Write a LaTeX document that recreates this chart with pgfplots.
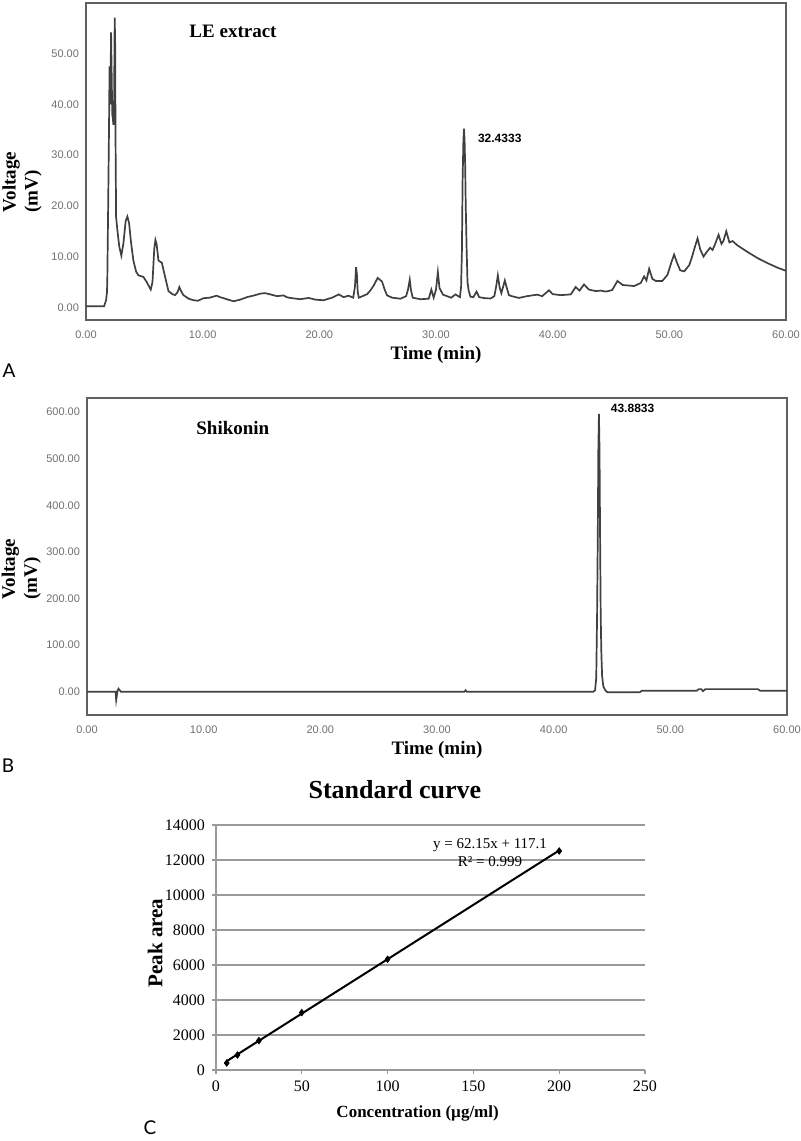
\documentclass[border=0pt]{standalone}
\usepackage{fontspec}
\setmainfont{Liberation Serif}
\newfontfamily\arialf{Liberation Sans}
\newfontfamily\panelf{Lato}
\usepackage{pgfplots}
\usepackage{pgfplotstable}
\pgfplotsset{compat=1.18}

\definecolor{frame}{HTML}{606060}
\definecolor{trace}{HTML}{404040}
\definecolor{ticktxt}{HTML}{707070}
\definecolor{gridc}{HTML}{9A9A9A}

% LE extract chromatogram (time min, voltage mV)
\pgfplotstableread{
t v
0.00 0.2
1.55 0.2
1.72 1.4
1.80 3.0
1.83 6.0
1.90 20
1.97 34.8
2.02 47.5
2.08 40
2.15 54.2
2.20 46
2.25 38
2.29 37.5
2.35 36
2.40 38
2.46 57.1
2.50 52
2.53 34
2.58 17.8
2.70 15
2.85 12
3.03 10.2
3.20 12.5
3.40 17.0
3.55 17.9
3.70 16.5
3.85 13
4.06 9.25
4.30 7.0
4.50 6.3
4.92 6.0
5.20 5.0
5.55 3.5
5.70 5
5.85 11.5
5.95 13.3
6.05 12.5
6.21 9.25
6.35 9.0
6.50 8.8
6.78 6.0
7.07 3.2
7.40 2.6
7.64 2.4
7.85 3.0
8.00 4.0
8.15 3.2
8.35 2.4
8.80 1.7
9.21 1.4
9.60 1.3
10.07 1.8
10.60 1.9
11.20 2.3
11.50 2.0
11.80 1.8
12.20 1.5
12.65 1.2
13.20 1.5
13.80 2.0
14.50 2.4
14.94 2.7
15.36 2.8
15.80 2.55
16.37 2.2
16.94 2.35
17.20 2.0
17.50 1.85
18.37 1.6
19.08 1.85
19.70 1.5
20.37 1.4
21.09 1.9
21.66 2.55
22.09 2.0
22.50 2.3
22.90 1.9
23.05 4.0
23.15 7.9
23.22 6.5
23.29 3.1
23.38 1.9
23.70 2.2
24.10 2.6
24.40 3.4
24.66 4.3
25.00 5.8
25.37 5.1
25.60 3.5
25.81 2.35
26.24 1.9
26.95 1.7
27.44 2.2
27.60 3.5
27.75 5.45
27.85 3.5
28.00 1.9
28.67 1.6
29.38 1.7
29.60 3.5
29.80 1.9
30.00 3.5
30.16 6.95
30.30 3.8
30.60 2.5
30.95 2.2
31.30 1.9
31.67 2.55
32.05 2.0
32.15 4
32.22 11
32.28 25
32.35 33
32.40 35.2
32.45 33
32.50 28
32.55 20
32.62 12
32.70 5
32.80 3.3
32.95 2.1
33.20 2.0
33.48 3.1
33.70 2.0
34.20 1.8
34.68 1.75
35.00 2.2
35.15 4.0
35.30 6.3
35.45 4.0
35.60 2.8
35.75 4.0
35.90 5.3
36.05 4.0
36.25 2.4
36.50 2.2
37.10 1.85
37.80 2.2
38.68 2.5
39.10 2.2
39.40 2.8
39.68 3.35
40.00 2.6
40.70 2.4
41.55 2.55
41.97 4.0
42.30 3.3
42.69 4.5
43.10 3.5
43.70 3.2
44.10 3.3
44.55 3.1
45.10 3.4
45.55 5.2
46.00 4.4
46.98 4.2
47.55 4.8
47.84 6.1
48.04 5.3
48.27 7.6
48.55 5.6
48.84 5.2
49.40 5.2
49.84 6.4
50.18 8.9
50.41 10.4
50.64 8.9
50.93 7.3
51.28 7.1
51.70 8.3
51.90 9.6
52.19 11.9
52.42 13.6
52.65 11.4
52.93 10.0
53.20 10.9
53.50 11.75
53.70 11.3
53.93 12.5
54.22 14.3
54.47 12.5
54.64 13.1
54.88 15.0
55.15 12.8
55.42 13.05
55.85 12.2
56.71 10.9
57.57 9.7
58.43 8.7
59.29 7.8
60.00 7.2
}\leextract

% Shikonin standard chromatogram
\pgfplotstableread{
t v
0.00 0
2.45 0
2.50 -18
2.55 -10
2.62 2
2.70 6.4
2.78 4
2.90 0
32.35 0
32.45 3
32.55 0
43.40 0
43.55 3
43.65 30
43.72 160
43.78 330
43.83 520
43.88 596
43.93 520
43.98 330
44.03 170
44.08 90
44.15 35
44.25 12
44.40 4
44.60 -1
47.40 -1
47.55 2
52.25 2
52.45 5.5
52.65 5.5
52.80 1
53.00 5.5
57.50 5.5
57.70 2
60.00 2
}\shikonin

\pgfplotsset{chrom/.style={
    scale only axis, width=350pt, height=158.5pt, anchor=north west,
    xmin=0, xmax=60, xtick={0,10,...,60},
    axis line style={frame, line width=0.75pt},
    major tick length=0pt,
    tick label style={font=\arialf\fontsize{5.5}{6}\selectfont, text=ticktxt},
    /pgf/number format/fixed, /pgf/number format/fixed zerofill,
    /pgf/number format/precision=2, /pgf/number format/assume math mode=true,
    xticklabel style={yshift=-2pt},
    label style={font=\bfseries\fontsize{9.5}{11}\selectfont},
    xlabel={Time (min)},
    xlabel style={at={(axis description cs:0.5,0)}, anchor=center, yshift=-17.5pt},
    ylabel={Voltage\\(mV)},
    ylabel style={anchor=center, align=left},
  }}

\begin{document}
\begin{tikzpicture}
  \useasboundingbox (0,0) rectangle (400pt,-570.5pt);

  % A
  \begin{axis}[chrom, at={(43pt,-1.5pt)}, ymin=-2.5, ymax=60, ytick={0,10,...,50},
      ylabel style={at={(axis description cs:-0.0915,0.435)}}]
    \addplot[trace, line width=0.85pt] table[x=t, y=v] {\leextract};
    \node[font=\bfseries\fontsize{9.5}{10}\selectfont] at (axis cs:12.6,54.5) {LE extract};
    \node[font=\arialf\bfseries\fontsize{6}{7}\selectfont, anchor=west] at (axis cs:33.0,33.3) {32.4333};
  \end{axis}

  % B
  \begin{axis}[chrom, at={(43.5pt,-199pt)}, ymin=-50, ymax=630, ytick={0,100,...,600},
      ylabel style={at={(axis description cs:-0.094,0.46)}}]
    \addplot[trace, line width=0.85pt] table[x=t, y=v] {\shikonin};
    \node[font=\bfseries\fontsize{9.5}{10}\selectfont] at (axis cs:12.5,566) {Shikonin};
    \node[font=\arialf\bfseries\fontsize{6}{7}\selectfont, anchor=west] at (axis cs:44.3,607) {43.8833};
  \end{axis}

  % C
  \begin{axis}[scale only axis, width=214.5pt, height=122.5pt,
      at={(108pt,-412.5pt)}, anchor=north west,
      xmin=0, xmax=250, ymin=0, ymax=14000,
      xtick={0,50,...,250}, ytick={0,2000,...,14000},
      axis x line=bottom, axis y line=left,
      axis line style={gridc, -, line width=0.6pt},
      tick style={gridc, line width=0.6pt}, tick align=outside, major tick length=2pt,
      ymajorgrids, grid style={gridc, line width=0.6pt},
      tick label style={font=\fontsize{8}{9}\selectfont},
      /pgf/number format/1000 sep={}, /pgf/number format/assume math mode=true,
      scaled y ticks=false,
      title={Standard curve},
      title style={font=\bfseries\fontsize{13}{14}\selectfont,
        at={(axis description cs:0.417,1)}, anchor=center, yshift=11.5pt},
      label style={font=\bfseries\fontsize{8.5}{9}\selectfont},
      xlabel={Concentration (µg/ml)},
      xlabel style={at={(axis description cs:0.47,-0.176)}, anchor=center},
      ylabel={Peak area},
      ylabel style={at={(axis description cs:-0.142,0.518)}, anchor=center,
        font=\bfseries\fontsize{10.5}{11}\selectfont},
    ]
    \addplot[black, line width=1pt] coordinates {(6.25,505.5) (200,12547.1)};
    \addplot[only marks, mark=diamond*, mark size=1.6pt, black]
      coordinates {(6.25,400) (12.5,857) (25,1680) (50,3280) (100,6330) (200,12514)};
    \node[font=\fontsize{7.5}{8}\selectfont] at (axis cs:159.7,12857) {y = 62.15x + 117.1};
    \node[font=\fontsize{7.5}{8}\selectfont] at (axis cs:159.7,11886) {R² = 0.999};
  \end{axis}

  \node[font=\panelf\fontsize{9.5}{10}\selectfont] at (4.5pt,-185.5pt) {A};
  \node[font=\panelf\fontsize{9.5}{10}\selectfont] at (4pt,-383pt) {B};
  \node[font=\panelf\fontsize{9.5}{10}\selectfont] at (75pt,-564pt) {C};
\end{tikzpicture}
\end{document}
